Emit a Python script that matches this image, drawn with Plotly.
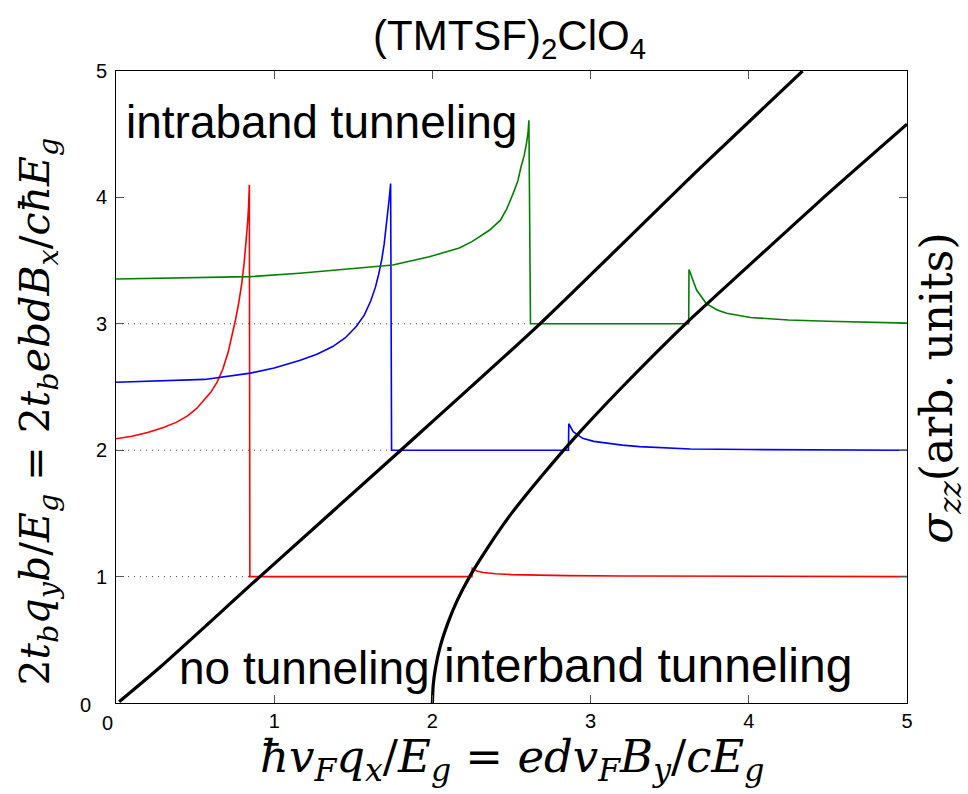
import plotly.graph_objects as go

# ---------------- data ----------------
red_x = [0.00, 0.10, 0.20, 0.30, 0.38, 0.45, 0.51, 0.56, 0.60, 0.64, 0.675, 0.71, 0.735, 0.755,
         0.775, 0.795, 0.81, 0.822, 0.832, 0.838, 0.843, 0.846,
         2.25, 2.252, 2.28, 2.32, 2.40, 2.50, 2.65, 2.85, 3.20, 3.70, 4.30, 5.00]
red_y = [2.09, 2.11, 2.14, 2.18, 2.22, 2.27, 2.33, 2.40, 2.46, 2.54, 2.64, 2.78, 2.91, 3.03,
         3.16, 3.32, 3.48, 3.63, 3.80, 3.93, 4.10, 1.00,
         1.00, 1.065, 1.045, 1.032, 1.022, 1.016, 1.011, 1.008, 1.005, 1.003, 1.001, 1.000]

blue_x = [0.00, 0.28, 0.56, 0.85, 1.00, 1.16, 1.27, 1.37, 1.45, 1.52, 1.57, 1.61, 1.64,
          1.66, 1.68, 1.695, 1.707, 1.717, 1.727, 1.736, 1.742,
          2.86, 2.862, 2.89, 2.95, 3.02, 3.10, 3.20, 3.31, 3.45, 3.63, 4.00, 4.50, 5.00]
blue_y = [2.537, 2.547, 2.56, 2.61, 2.65, 2.71, 2.76, 2.82, 2.89, 2.98, 3.07, 3.18, 3.29,
          3.39, 3.51, 3.63, 3.75, 3.87, 3.99, 4.11, 2.00,
          2.00, 2.21, 2.146, 2.094, 2.07, 2.055, 2.04, 2.028, 2.018, 2.010, 2.005, 2.002, 2.000]

green_x = [0.00, 0.28, 0.56, 0.85, 1.16, 1.45, 1.75, 1.98, 2.17, 2.25, 2.30, 2.36, 2.43, 2.47,
           2.51, 2.54, 2.56, 2.58, 2.595, 2.605, 2.61, 2.62,
           3.62, 3.622, 3.67, 3.73, 3.80, 3.86, 4.01, 4.25, 4.50, 5.00]
green_y = [3.355, 3.36, 3.365, 3.373, 3.40, 3.43, 3.465, 3.53, 3.60, 3.65, 3.69, 3.74, 3.82, 3.91,
           4.03, 4.13, 4.24, 4.33, 4.43, 4.52, 4.61, 3.00,
           3.00, 3.43, 3.267, 3.162, 3.11, 3.083, 3.05, 3.03, 3.02, 3.005]

intra_x = [0.02, 0.28, 0.91, 1.80, 2.68, 3.69, 4.34]
intra_y = [0.01, 0.285, 1.00, 2.00, 3.00, 4.23, 5.00]

inter_x = [2.00, 2.005, 2.02, 2.05, 2.10, 2.16, 2.24, 2.35, 2.50, 2.70, 2.90, 3.20, 3.60, 4.00, 4.50, 5.00]
inter_y = [0.00, 0.14, 0.28, 0.45, 0.64, 0.82, 1.01, 1.23, 1.50, 1.81, 2.10, 2.50, 3.00, 3.46, 4.03, 4.58]

level_y = [1, 2, 3]
level_end_x = [0.846, 1.742, 2.62]

tick_vals = [1, 2, 3, 4, 5]
tick_text = ["1", "2", "3", "4", "5"]

title_text = "(TMTSF)<sub>2</sub>ClO<sub>4</sub>"
labels = ["intraband tunneling", "no tunneling", "interband tunneling"]

# ---------------- figure ----------------
fig = go.Figure()

for yv, xe in zip(level_y, level_end_x):
    fig.add_trace(go.Scatter(x=[0, xe], y=[yv, yv], mode="lines",
                             line=dict(color="#444444", width=1, dash="1px,5px"),
                             hoverinfo="skip"))

for xs, ys, col in [(red_x, red_y, "#ff0000"), (blue_x, blue_y, "#0000ff"), (green_x, green_y, "#008000")]:
    fig.add_trace(go.Scatter(x=xs, y=ys, mode="lines", line=dict(color=col, width=1.6)))

for xs, ys in [(intra_x, intra_y), (inter_x, inter_y)]:
    fig.add_trace(go.Scatter(x=xs, y=ys, mode="lines",
                             line=dict(color="black", width=3.2, shape="spline", smoothing=0.6)))

sans = "Liberation Sans, Arial, Helvetica, sans-serif"
serif = "DejaVu Serif, Liberation Serif, serif"

axis_common = dict(range=[0, 5], showline=True, linecolor="black", linewidth=1, mirror="ticks",
                   ticks="inside", ticklen=8, tickcolor="#555555", showgrid=False, zeroline=False,
                   tickvals=tick_vals, ticktext=tick_text, tickfont=dict(family=sans, size=20, color="black"))

fig.update_layout(
    width=968, height=794,
    margin=dict(l=116, r=61, t=71, b=91),
    plot_bgcolor="white", paper_bgcolor="white",
    showlegend=False,
    xaxis=dict(**axis_common),
    yaxis=dict(**axis_common, ticklabelstandoff=4),
)

ann = []
# zero labels (offset as in reference)
ann.append(dict(xref="paper", yref="paper", x=-0.039, y=-0.003, text="0", showarrow=False,
                font=dict(family=sans, size=20, color="black"), xanchor="center", yanchor="middle"))
ann.append(dict(xref="paper", yref="paper", x=-0.011, y=-0.032, text="0", showarrow=False,
                font=dict(family=sans, size=20, color="black"), xanchor="center", yanchor="middle"))
# title
ann.append(dict(xref="paper", yref="paper", x=0.497, y=1.052, text=title_text, showarrow=False,
                font=dict(family=sans, size=42, color="black"),
                xanchor="center", yanchor="middle"))
# axis titles
sp = "&nbsp;"
xt = ("<i>ħv</i><sub><i>F</i></sub><i>q</i><sub><i>x</i></sub>/<i>E</i><sub><i>g</i></sub>"
      + sp + "=" + sp +
      "<i>edv</i><sub><i>F</i></sub><i>B</i><sub><i>y</i></sub>/<i>cE</i><sub><i>g</i></sub>")
ann.append(dict(xref="paper", yref="paper", x=0.5, y=-0.088, text=xt, showarrow=False,
                font=dict(family=serif, size=45, color="black"), xanchor="center", yanchor="middle"))
yt = ("2<i>t</i><sub><i>b</i></sub><i>q</i><sub><i>y</i></sub><i>b</i>/<i>E</i><sub><i>g</i></sub>"
      + sp + "=" + sp +
      "2<i>t</i><sub><i>b</i></sub><i>ebdB</i><sub><i>x</i></sub>/<i>cħE</i><sub><i>g</i></sub>")
ann.append(dict(xref="paper", yref="paper", x=-0.098, y=0.462, text=yt, showarrow=False, textangle=-90,
                font=dict(family=serif, size=41, color="black"), xanchor="center", yanchor="middle"))
rt = "<i>σ</i><sub><i>zz</i></sub>(arb.&nbsp;units)"
ann.append(dict(xref="paper", yref="paper", x=1.041, y=0.498, text=rt, showarrow=False, textangle=-90,
                font=dict(family=serif, size=44, color="black"), xanchor="center", yanchor="middle"))
# region labels
ann.append(dict(x=0.05, y=4.6, text=labels[0], showarrow=False, xanchor="left", yanchor="middle",
                font=dict(family=sans, size=46, color="black")))
ann.append(dict(x=1.19, y=0.28, text=labels[1], showarrow=False, xanchor="center", yanchor="middle",
                font=dict(family=sans, size=46, color="black")))
ann.append(dict(x=3.36, y=0.30, text=labels[2], showarrow=False, xanchor="center", yanchor="middle",
                font=dict(family=sans, size=48, color="black")))

fig.update_layout(annotations=ann)
fig.write_html("out.html", config={"displayModeBar": False},
               post_script="document.body.style.margin='0';document.body.style.overflow='hidden';")
